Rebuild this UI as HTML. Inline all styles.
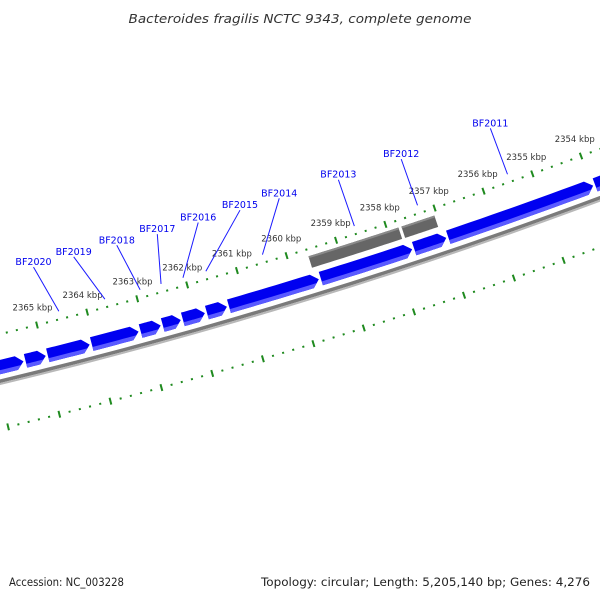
<!DOCTYPE html>
<html><head><meta charset="utf-8"><style>
html,body{margin:0;padding:0;background:#fff;}
svg{display:block;font-family:"DejaVu Sans","Liberation Sans",sans-serif;}
</style></head><body>
<svg id="map" width="600" height="600" viewBox="0 0 600 600" xmlns="http://www.w3.org/2000/svg">
<rect width="600" height="600" fill="#fff"/>
<text x="300" y="23" text-anchor="middle" font-size="12.5" font-style="italic" fill="#333" textLength="343" lengthAdjust="spacingAndGlyphs">Bacteroides fragilis NCTC 9343, complete genome</text>
<g id="plot"></g>
<text x="9" y="586" font-size="11.5" fill="#222" textLength="115" lengthAdjust="spacingAndGlyphs">Accession: NC_003228</text>
<text x="590" y="586" font-size="11.5" fill="#222" text-anchor="end" textLength="329" lengthAdjust="spacingAndGlyphs">Topology: circular; Length: 5,205,140 bp; Genes: 4,276</text>
</svg>
<script>
// forward genes (kbp start -> end, arrow points toward end)
const geneStarts = [2366.3, 2365.40, 2364.96, 2364.09, 2363.12, 2362.68, 2362.28, 2361.80, 2361.36, 2359.52, 2357.64, 2356.95, 2353.96];
const geneEnds   = [2365.40, 2364.96, 2364.09, 2363.12, 2362.68, 2362.28, 2361.80, 2361.36, 2359.52, 2357.64, 2356.95, 2353.96, 2352.9];
// gray feature blocks
const blockStarts = [2359.62, 2357.74];
const blockEnds   = [2357.76, 2357.03];
// gene labels
const labelNames = ["BF2020","BF2019","BF2018","BF2017","BF2016","BF2015","BF2014","BF2013","BF2012","BF2011"];
const labelGeneIndex = [2,3,4,5,6,7,8,9,10,11];
const labelKbp = [2364.79, 2363.98, 2363.11, 2362.29, 2361.46, 2360.61, 2359.81, 2358.60, 2357.31, 2355.47];
// tick labels
const tickLabelKbp = [2365,2364,2363,2362,2361,2360,2359,2358,2357,2356,2355,2354];
const tickLabels = ["2365 kbp","2364 kbp","2363 kbp","2362 kbp","2361 kbp","2360 kbp","2359 kbp","2358 kbp","2357 kbp","2356 kbp","2355 kbp","2354 kbp"];

const NS="http://www.w3.org/2000/svg";
const plot=document.getElementById('plot');
const CX=-1217, CY=-4671;
function ang(k){return (69.57+(k-2354)*0.5764)*Math.PI/180;}
function pt(k,r){const a=ang(k);return [CX+r*Math.cos(a),CY+r*Math.sin(a)];}
function P(list){return list.map(p=>p[0].toFixed(2)+','+p[1].toFixed(2)).join(' ');}
function arcPts(k1,k2,r,n){const o=[];for(let i=0;i<=n;i++){o.push(pt(k1+(k2-k1)*i/n,r));}return o;}
function band(k1,k2,r1,r2){return arcPts(k1,k2,r1,20).concat(arcPts(k2,k1,r2,20));}
function poly(pts,fill){const e=document.createElementNS(NS,'polygon');e.setAttribute('points',P(pts));e.setAttribute('fill',fill);plot.appendChild(e);return e;}
function line(a,b,stroke,w){const e=document.createElementNS(NS,'line');e.setAttribute('x1',a[0]);e.setAttribute('y1',a[1]);e.setAttribute('x2',b[0]);e.setAttribute('y2',b[1]);e.setAttribute('stroke',stroke);e.setAttribute('stroke-width',w);plot.appendChild(e);return e;}
function text(p,s,size,fill){const e=document.createElementNS(NS,'text');e.setAttribute('x',p[0]);e.setAttribute('y',p[1]);e.setAttribute('font-size',size);e.setAttribute('fill',fill);e.setAttribute('text-anchor','middle');e.textContent=s;plot.appendChild(e);return e;}

// backbone
let bb=poly(band(2367.5,2352,5195,5198.5),'#7a7a7a');


let bbs=poly(band(2367.5,2352,5198.5,5200.5),'#b8b8b8');



// ticks on two rings
const TR=[5151,5243];
TR.forEach((r,ri)=>{
  for(let t=0;t<=80;t++){
    const k=2368-t*0.2;
    const major=Math.abs(k-Math.round(k))<0.01;
    const h=major?3.5:1;
    const e=line(pt(k,r-h),pt(k,r+h),'#1f8a1f',2);
    
    
  }
});
tickLabelKbp.forEach((k,i)=>{
  const p=pt(k,5133);
  const e=text([p[0],p[1]+3],tickLabels[i],8.5,'#333');
  
  
});

// gray blocks
blockStarts.forEach((s,i)=>{
  const e1=document.createElementNS(NS,'g');
  const a=poly(band(s-0.02,blockEnds[i]+0.02,5158,5170),'#666');
  
  
  const b=poly(band(s-0.02,blockEnds[i]+0.02,5158,5160),'#8a8a8a');
  
  
});

// genes
geneStarts.forEach((s,i)=>{
  const e=geneEnds[i]+0.02, st=s-0.02;
  const hs=e+0.14;
  const body=arcPts(st,hs,5176,12).concat([pt(e,5183)]).concat(arcPts(hs,st,5190,12));
  const g=poly(body,'#0000f0');
  
  
  const hk=hs+(e-hs)*4/7;
  const lo=arcPts(st,hs,5186,12).concat([pt(hk,5186)]).concat(arcPts(hs,st,5190,12));
  const l=poly(lo,'#5a5aff');
  
  
});

// gene labels
labelNames.forEach((n,i)=>{
  const gi=labelGeneIndex[i];
  const c=(geneStarts[gi]+geneEnds[gi])/2;
  const a=pt(labelKbp[i],5094), b=pt(c,5143);
  const ln=line(a,b,'#1a1aff',1);
  
  
  const t=text([a[0],a[1]-2],n,9.5,'#0000ee');
  
  
});
</script>
</body></html>
